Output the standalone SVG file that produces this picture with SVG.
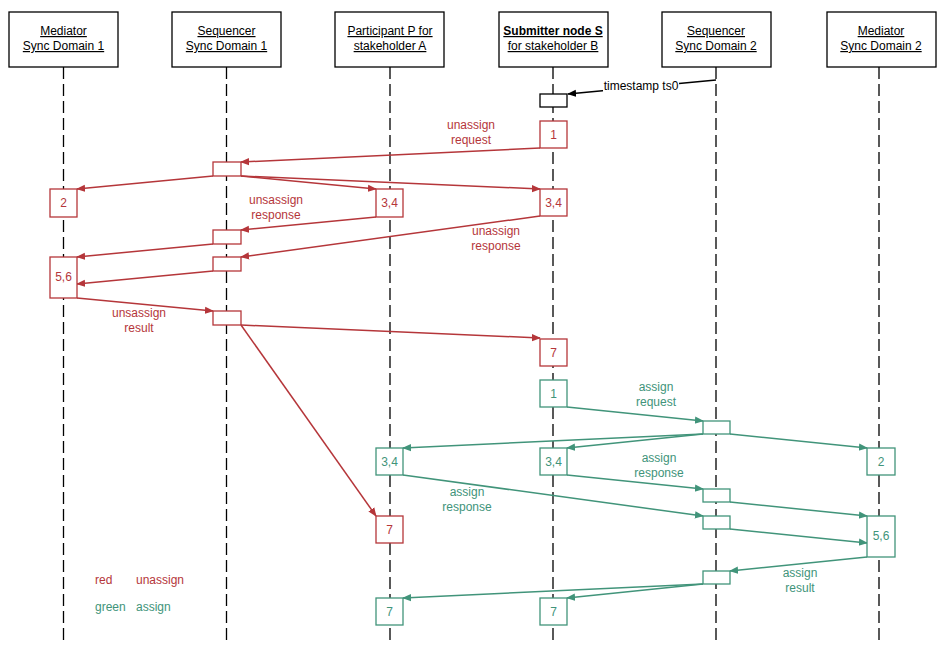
<svg xmlns="http://www.w3.org/2000/svg" width="946" height="661" viewBox="0 0 946 661">
<defs>
<style>
text{font-family:"Liberation Sans",Arial,sans-serif;font-size:12px;text-anchor:middle}
.hdr{fill:#fff;stroke:#000;stroke-width:1.3}
.ht{fill:#000;text-decoration:underline}
.life{stroke:#000;stroke-width:1.3;stroke-dasharray:12 5;fill:none}
.r{stroke:#b5363a;fill:#fff;stroke-width:1.3}
.g{stroke:#41947a;fill:#fff;stroke-width:1.3}
.rt{fill:#b5363a}
.gt{fill:#41947a}
.ra{stroke:#b5363a;stroke-width:1.5;fill:none;marker-end:url(#mr)}
.ga{stroke:#41947a;stroke-width:1.5;fill:none;marker-end:url(#mg)}
</style>
<marker id="mr" viewBox="0 0 10 10" refX="9" refY="5" markerWidth="9" markerHeight="9" markerUnits="userSpaceOnUse" orient="auto"><path d="M0,1 L10,5 L0,9 z" fill="#b5363a"/></marker>
<marker id="mg" viewBox="0 0 10 10" refX="9" refY="5" markerWidth="9" markerHeight="9" markerUnits="userSpaceOnUse" orient="auto"><path d="M0,1 L10,5 L0,9 z" fill="#41947a"/></marker>
<marker id="mk" viewBox="0 0 10 10" refX="9" refY="5" markerWidth="9" markerHeight="9" markerUnits="userSpaceOnUse" orient="auto"><path d="M0,1 L10,5 L0,9 z" fill="#000"/></marker>
</defs>
<rect width="946" height="661" fill="#fff"/>

<g id="lifelines">
<line class="life" x1="63.5" y1="67" x2="63.5" y2="640"/>
<line class="life" x1="226.5" y1="67" x2="226.5" y2="640"/>
<line class="life" x1="390" y1="67" x2="390" y2="640"/>
<line class="life" x1="553" y1="67" x2="553" y2="640"/>
<line class="life" x1="716" y1="67" x2="716" y2="640"/>
<line class="life" x1="879" y1="67" x2="879" y2="640"/>
</g>

<g id="med1"><rect class="hdr" x="9" y="12" width="109" height="55"/><text class="ht" x="63.5" y="35">Mediator</text><text class="ht" x="63.5" y="50">Sync Domain 1</text></g>
<g id="seq1"><rect class="hdr" x="172" y="12" width="109" height="55"/><text class="ht" x="226.5" y="35">Sequencer</text><text class="ht" x="226.5" y="50">Sync Domain 1</text></g>
<g id="partP"><rect class="hdr" x="335" y="12" width="109" height="55"/><text class="ht" x="390" y="35">Participant P for</text><text class="ht" x="390" y="50">stakeholder A</text></g>
<g id="subS"><rect class="hdr" x="499" y="12" width="109" height="55"/><text class="ht" x="553" y="35" font-weight="bold">Submitter node S</text><text class="ht" x="553" y="50">for stakeholder B</text></g>
<g id="seq2"><rect class="hdr" x="662" y="12" width="109" height="55"/><text class="ht" x="716" y="35">Sequencer</text><text class="ht" x="716" y="50">Sync Domain 2</text></g>
<g id="med2"><rect class="hdr" x="827" y="12" width="109" height="55"/><text class="ht" x="881" y="35">Mediator</text><text class="ht" x="881" y="50">Sync Domain 2</text></g>

<g id="connectors">
<line x1="716" y1="80" x2="568" y2="94" stroke="#000" stroke-width="1.5" marker-end="url(#mk)"/>
<rect x="603" y="79" width="76" height="13" fill="#fff"/>
<text x="641" y="90" fill="#000">timestamp ts0</text>

<line class="ra" x1="540" y1="148" x2="241" y2="162"/>
<line class="ra" x1="213" y1="176" x2="77" y2="189"/>
<line class="ra" x1="241" y1="176" x2="376" y2="189"/>
<line class="ra" x1="241" y1="176" x2="540" y2="189"/>
<line class="ra" x1="376" y1="217" x2="241" y2="230"/>
<line class="ra" x1="540" y1="216" x2="241" y2="257"/>
<line class="ra" x1="213" y1="244" x2="77" y2="257"/>
<line class="ra" x1="213" y1="271" x2="77" y2="284"/>
<line class="ra" x1="77" y1="298" x2="213" y2="311"/>
<line class="ra" x1="241" y1="325" x2="540" y2="338"/>
<line class="ra" x1="241" y1="325" x2="376" y2="516"/>

<line class="ga" x1="567" y1="407" x2="703" y2="421"/>
<line class="ga" x1="703" y1="434" x2="403" y2="448"/>
<line class="ga" x1="703" y1="434" x2="567" y2="448"/>
<line class="ga" x1="730" y1="434" x2="867" y2="448"/>
<line class="ga" x1="567" y1="475" x2="703" y2="489"/>
<line class="ga" x1="403" y1="475" x2="703" y2="516"/>
<line class="ga" x1="730" y1="502" x2="867" y2="516"/>
<line class="ga" x1="730" y1="529" x2="867" y2="543"/>
<line class="ga" x1="867" y1="557" x2="730" y2="571"/>
<line class="ga" x1="703" y1="584" x2="403" y2="598"/>
<line class="ga" x1="703" y1="584" x2="567" y2="598"/>
</g>

<g id="labels">
<text class="rt" x="471" y="129">unassign</text><text class="rt" x="471" y="144">request</text>
<text class="rt" x="276" y="204">unsassign</text><text class="rt" x="276" y="219">response</text>
<text class="rt" x="496" y="235">unassign</text><text class="rt" x="496" y="250">response</text>
<text class="rt" x="139" y="317">unsassign</text><text class="rt" x="139" y="332">result</text>
<text class="gt" x="656" y="391">assign</text><text class="gt" x="656" y="406">request</text>
<text class="gt" x="659" y="462">assign</text><text class="gt" x="659" y="477">response</text>
<text class="gt" x="467" y="496">assign</text><text class="gt" x="467" y="511">response</text>
<text class="gt" x="800" y="577">assign</text><text class="gt" x="800" y="592">result</text>
</g>

<g id="act-ts"><rect x="540" y="94" width="27" height="13" fill="#fff" stroke="#000" stroke-width="1.3"/></g>
<g id="r-s1"><rect class="r" x="540" y="121" width="27" height="27"/><text class="rt" x="553.5" y="139">1</text></g>
<g id="r-act1"><rect class="r" x="213" y="162" width="28" height="14"/></g>
<g id="r-m2"><rect class="r" x="50" y="189" width="27" height="28"/><text class="rt" x="63.5" y="207">2</text></g>
<g id="r-p34"><rect class="r" x="376" y="189" width="27" height="28"/><text class="rt" x="389.5" y="207">3,4</text></g>
<g id="r-s34"><rect class="r" x="540" y="189" width="27" height="27"/><text class="rt" x="553.5" y="207">3,4</text></g>
<g id="r-act2"><rect class="r" x="213" y="230" width="28" height="14"/></g>
<g id="r-act3"><rect class="r" x="213" y="257" width="28" height="14"/></g>
<g id="r-m56"><rect class="r" x="50" y="257" width="27" height="41"/><text class="rt" x="63.5" y="281">5,6</text></g>
<g id="r-act4"><rect class="r" x="213" y="311" width="28" height="14"/></g>
<g id="r-s7"><rect class="r" x="540" y="339" width="27" height="27"/><text class="rt" x="553.5" y="357">7</text></g>
<g id="r-p7"><rect class="r" x="376" y="516" width="27" height="27"/><text class="rt" x="389.5" y="534">7</text></g>

<g id="g-s1"><rect class="g" x="540" y="380" width="27" height="27"/><text class="gt" x="553.5" y="398">1</text></g>
<g id="g-act1"><rect class="g" x="703" y="421" width="27" height="13"/></g>
<g id="g-p34"><rect class="g" x="376" y="448" width="27" height="27"/><text class="gt" x="389.5" y="466">3,4</text></g>
<g id="g-s34"><rect class="g" x="540" y="448" width="27" height="27"/><text class="gt" x="553.5" y="466">3,4</text></g>
<g id="g-m2"><rect class="g" x="867" y="448" width="28" height="27"/><text class="gt" x="881" y="466">2</text></g>
<g id="g-act2"><rect class="g" x="703" y="489" width="27" height="13"/></g>
<g id="g-act3"><rect class="g" x="703" y="516" width="27" height="13"/></g>
<g id="g-m56"><rect class="g" x="867" y="516" width="28" height="41"/><text class="gt" x="881" y="540">5,6</text></g>
<g id="g-act4"><rect class="g" x="703" y="571" width="27" height="13"/></g>
<g id="g-p7"><rect class="g" x="376" y="598" width="27" height="27"/><text class="gt" x="389.5" y="616">7</text></g>
<g id="g-s7"><rect class="g" x="540" y="598" width="27" height="27"/><text class="gt" x="553.5" y="616">7</text></g>

<g id="legend">
<text class="rt" x="95" y="584" text-anchor="start" style="text-anchor:start">red</text>
<text class="rt" x="136" y="584" style="text-anchor:start">unassign</text>
<text class="gt" x="95" y="611" style="text-anchor:start">green</text>
<text class="gt" x="136" y="611" style="text-anchor:start">assign</text>
</g>
</svg>
